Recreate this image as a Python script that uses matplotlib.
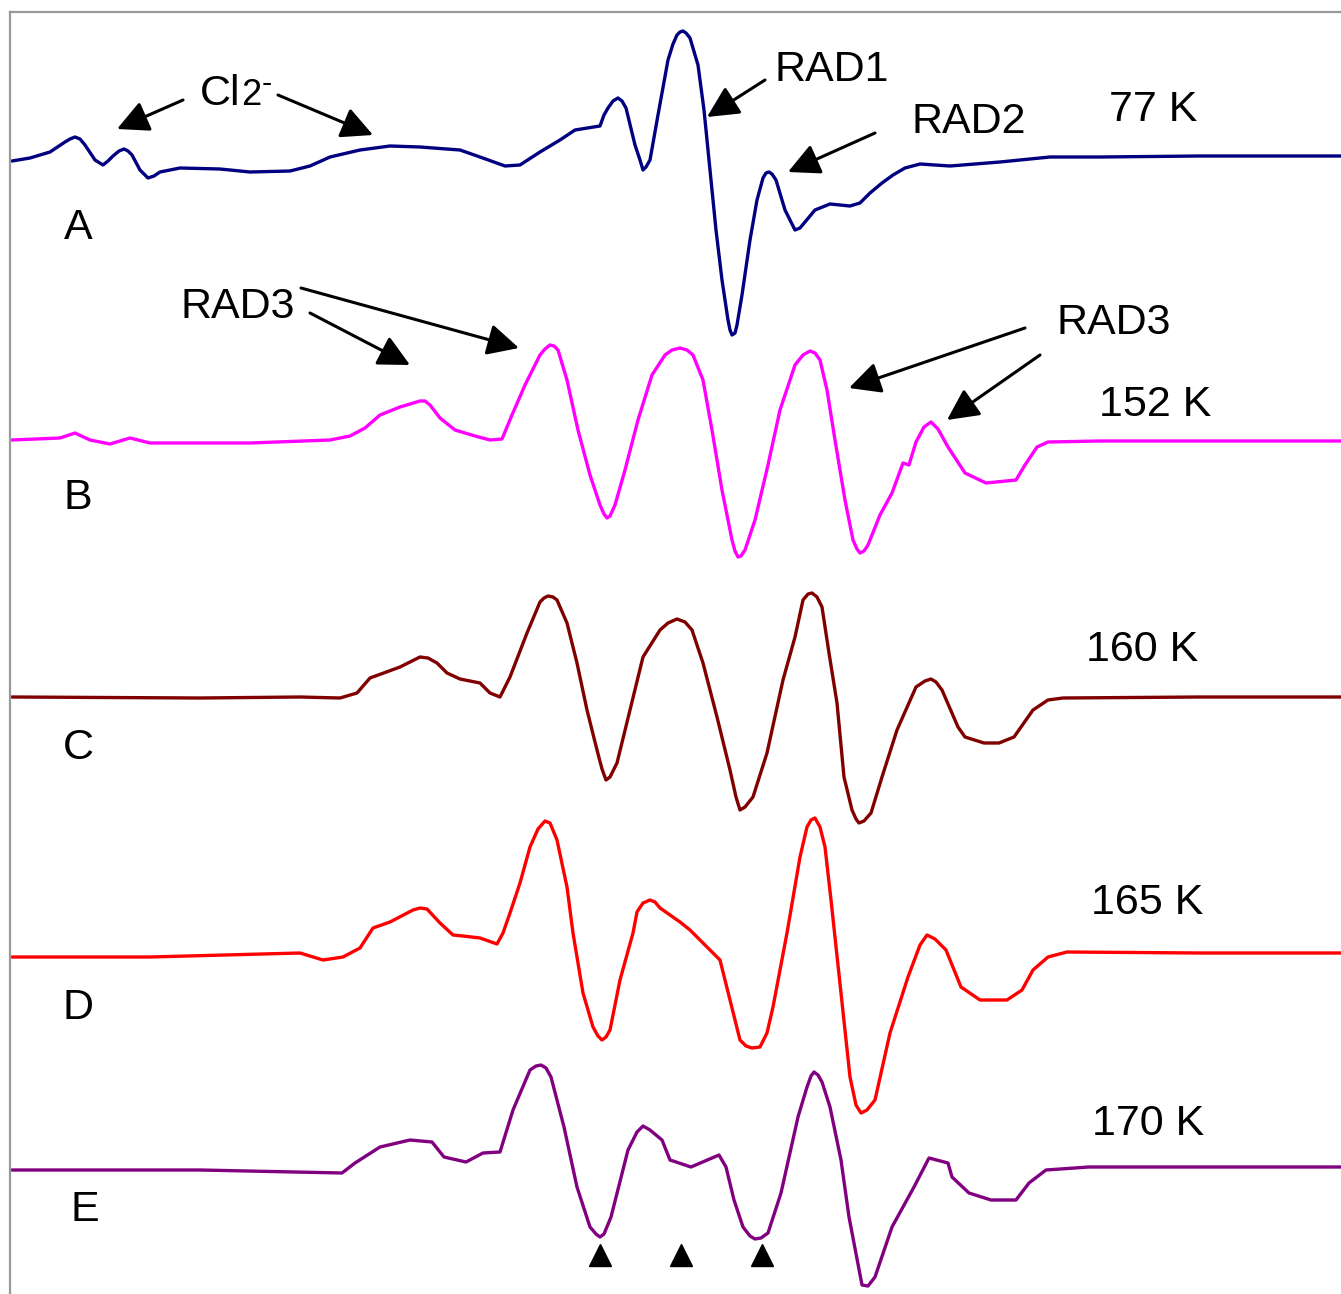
import matplotlib
matplotlib.use("Agg")
import matplotlib.pyplot as plt
import numpy as np

# ---------------- data (field position, derivative signal in arb. units) ----------------
field_A = [12, 30, 50, 65, 70, 75, 80, 85, 95, 103, 108, 113, 119, 124, 128, 132, 140, 148, 154, 160, 180,
           220, 250, 290, 310, 330, 360, 390, 420, 460, 480, 505, 520, 540, 560, 575, 600, 604, 608, 613, 618,
           622, 626, 635, 640, 643, 646, 650, 658, 668, 673, 677, 680, 683, 686, 690, 698, 704, 710, 716, 722,
           728, 730, 732, 735, 737, 742, 750, 757, 763, 766, 769, 772, 776, 785, 795, 800, 805, 815, 830, 850,
           860, 870, 882, 893, 905, 920, 950, 1000, 1050, 1100, 1200, 1341]
signal_A = [-1, 2, 8, 18, 21, 23, 21, 15, 0, -5, -1, 4, 9, 11, 9, 5, -10, -18, -16, -12, -8,
            -9, -12, -11, -6, 3, 10, 14, 13, 10, 3, -6, -5, 8, 20, 30, 34, 45, 52, 59, 62,
            59, 52, 15, 0, -10, -7, 0, 45, 100, 116, 125, 128, 129, 127, 122, 95, 50, -10, -70, -120,
            -160, -170, -175, -173, -165, -135, -80, -40, -18, -13, -12, -14, -20, -50, -70, -68, -62, -50, -44, -46,
            -43, -33, -23, -15, -8, -4, -6, -2, 3, 3, 4, 4]

field_B = [12, 60, 75, 90, 110, 130, 150, 250, 330, 350, 365, 380, 400, 410, 420, 425, 430, 440, 455, 475,
           490, 502, 512, 525, 540, 545, 550, 554, 558, 567, 578, 590, 600, 604, 607, 610, 615, 625, 638, 652,
           665, 672, 680, 687, 693, 703, 712, 722, 732, 735, 738, 741, 745, 755, 768, 780, 795, 803, 810, 815,
           820, 827, 835, 845, 853, 857, 860, 864, 868, 880, 892, 903, 909, 916, 924, 931, 938, 948, 965, 986,
           1016, 1025, 1037, 1048, 1100, 1200, 1341]
signal_B = [1, 3, 8, 1, -3, 3, -2, -2, 1, 5, 13, 26, 34, 37, 40, 40, 36, 23, 11, 5,
            1, 2, 26, 56, 86, 92, 96, 95, 91, 61, 11, -34, -64, -73, -77, -75, -64, -29, 21, 66,
            86, 91, 93, 91, 86, 61, 11, -49, -99, -110, -116, -115, -109, -79, -24, 31, 76, 86, 90, 88,
            81, 51, 1, -59, -99, -108, -112, -110, -104, -74, -52, -22, -24, -1, 14, 19, 12, -6, -32, -42,
            -39, -24, -6, -1, 0, 0, 0]

field_C = [12, 200, 300, 340, 357, 370, 400, 410, 420, 428, 437, 447, 460, 480, 490, 500, 510, 527, 540,
           544, 548, 553, 557, 567, 577, 587, 597, 602, 606, 610, 617, 630, 643, 660, 668, 677, 685, 692, 703,
           717, 730, 736, 740, 745, 753, 767, 783, 795, 803, 808, 812, 817, 822, 829, 837, 844, 852, 856, 859,
           864, 871, 882, 897, 916, 925, 931, 936, 942, 958, 965, 984, 999, 1014, 1033, 1048, 1063, 1200, 1341]
signal_C = [0, -1, 0, -1, 4, 19, 30, 35, 40, 39, 34, 24, 18, 14, 4, 0, 20, 64, 95,
            99, 101, 100, 97, 74, 34, -13, -53, -72, -83, -80, -66, -13, 40, 67, 74, 78, 75, 67, 34,
            -20, -73, -100, -113, -110, -100, -56, 17, 60, 97, 103, 104, 100, 90, 44, -6, -80, -113, -122, -126,
            -124, -116, -80, -33, 10, 16, 18, 15, 7, -30, -40, -46, -46, -40, -13, -3, -1, 0, 0]

field_D = [12, 150, 300, 323, 343, 360, 373, 390, 413, 420, 427, 440, 453, 463, 480, 497, 503, 510, 520,
           530, 538, 545, 550, 557, 567, 573, 583, 593, 598, 602, 606, 610, 620, 633, 637, 643, 650, 655, 660,
           680, 690, 707, 720, 730, 740, 746, 752, 760, 767, 773, 787, 800, 807, 811, 815, 820, 825, 831, 841,
           850, 856, 861, 867, 875, 890, 908, 920, 927, 935, 946, 961, 980, 1007, 1022, 1033, 1048, 1067,
           1200, 1341]
signal_D = [-2, -2, 2, -5, -2, 7, 27, 33, 45, 47, 46, 32, 20, 19, 17, 11, 22, 42, 72,
            108, 126, 134, 132, 115, 68, 22, -38, -72, -81, -85, -82, -75, -25, 22, 43, 52, 55, 53, 47,
            33, 25, 8, -5, -45, -85, -91, -93, -92, -78, -52, 22, 98, 128, 135, 137, 128, 108, 55, -38,
            -122, -150, -158, -155, -145, -78, -22, 10, 20, 16, 5, -32, -45, -45, -35, -15, -2, 3,
            2, 2]

field_E = [12, 200, 342, 355, 380, 410, 432, 444, 466, 483, 500, 513, 530, 536, 541, 546, 551, 564, 577,
           590, 596, 600, 604, 611, 628, 637, 643, 650, 662, 670, 691, 719, 726, 734, 743, 750, 755, 761, 768,
           781, 798, 807, 811, 814, 818, 822, 830, 841, 849, 862, 868, 875, 892, 914, 929, 948, 952, 969, 991,
           1016, 1029, 1046, 1089, 1341]
signal_E = [-2, -2, -5, 5, 21, 28, 26, 11, 6, 15, 16, 58, 98, 102, 103, 100, 91, 41, -19,
            -59, -66, -69, -66, -49, 18, 36, 42, 38, 28, 8, 1, 13, 1, -32, -59, -68, -71, -70, -65,
            -25, 51, 81, 92, 96, 93, 86, 61, 8, -49, -117, -118, -109, -59, -19, 10, 5, -9, -25, -32,
            -32, -15, -2, 1, 1]

trace_labels = ["A", "B", "C", "D", "E"]
temperatures = ["77 K", "152 K", "160 K", "165 K", "170 K"]
marker_fields = [600, 681, 762]

# ---------------- figure ----------------
W, H = 1341, 1294
fig = plt.figure(figsize=(W / 100, H / 100), dpi=100)
ax = fig.add_axes([10 / W, 0, (W - 10) / W, (H - 12) / H])
ax.set_xlim(10, W)
ax.set_ylim(0, H - 12)

fs = 31
font = "Liberation Sans"

fields = [field_A, field_B, field_C, field_D, field_E]
signals = [signal_A, signal_B, signal_C, signal_D, signal_E]
colors = ["#000080", "#FF00FF", "#800000", "#FF0000", "#800080"]
offsets = [1134, 853, 597, 339, 126]

for f, s, c, off in zip(fields, signals, colors, offsets):
    ax.plot(f, np.asarray(s) + off, color=c, lw=2.4, solid_joinstyle="round",
            solid_capstyle="round")

# trace letters and temperatures
letter_pos = [(78, 1066), (78, 796), (78, 546), (78, 286), (85, 84)]
temp_pos = [(1153, 1184), (1155, 889), (1142, 644), (1147, 391), (1148, 170)]
for lab, (x, y) in zip(trace_labels, letter_pos):
    ax.text(x, y, lab, fontsize=fs, family=font, ha="center", va="center")
for lab, (x, y) in zip(temperatures, temp_pos):
    ax.text(x, y, lab, fontsize=fs, family=font, ha="center", va="center")

# marker triangles
ax.plot(marker_fields, [39] * len(marker_fields), ls="none", marker="^", ms=16, color="black")

# annotations
aprops = dict(arrowstyle="-|>,head_length=0.6,head_width=0.3", color="black", lw=2.2,
              shrinkA=0, shrinkB=0, mutation_scale=32)

def arrow(tail, tip):
    ax.annotate("", xy=(tip[0], H - tip[1]), xytext=(tail[0], H - tail[1]),
                arrowprops=aprops)

ax.text(200, H - 105, "Cl", fontsize=fs, family=font, ha="left", va="baseline")
ax.text(241, H - 105, "2", fontsize=26, family=font, ha="left", va="baseline")
ax.text(262, H - 92, "-", fontsize=22, family=font, ha="left", va="baseline")
arrow((183, 100), (117, 129))
arrow((278, 95), (373, 135))

ax.text(832, H - 70, "RAD1", fontsize=fs, family=font, ha="center", va="center")
arrow((765, 80), (707, 117))
ax.text(969, H - 122, "RAD2", fontsize=fs, family=font, ha="center", va="center")
arrow((875, 133), (788, 172))

ax.text(238, H - 307, "RAD3", fontsize=fs, family=font, ha="center", va="center")
arrow((310, 313), (410, 365))
arrow((301, 288), (519, 348))
ax.text(1114, H - 323, "RAD3", fontsize=fs, family=font, ha="center", va="center")
arrow((1025, 328), (849, 388))
arrow((1040, 355), (947, 420))

# frame: only left and top borders in gray
for side in ["right", "bottom"]:
    ax.spines[side].set_visible(False)
for side in ["left", "top"]:
    ax.spines[side].set_color("#999999")
    ax.spines[side].set_linewidth(1.6)
ax.set_xticks([])
ax.set_yticks([])

fig.savefig("out.png", dpi=100)
